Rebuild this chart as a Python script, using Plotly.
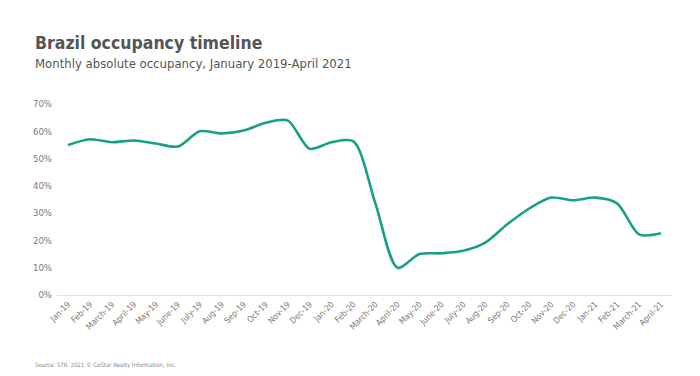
import plotly.graph_objects as go

months = ["Jan-19", "Feb-19", "March-19", "April-19", "May-19", "June-19", "July-19",
          "Aug-19", "Sep-19", "Oct-19", "Nov-19", "Dec-19", "Jan-20", "Feb-20",
          "March-20", "April-20", "May-20", "June-20", "July-20", "Aug-20", "Sep-20",
          "Oct-20", "Nov-20", "Dec-20", "Jan-21", "Feb-21", "March-21", "April-21"]
occupancy = [55.0, 57.1, 56.0, 56.6, 55.5, 54.4, 60.0,
             59.2, 60.3, 63.1, 64.0, 53.6, 56.0, 56.3,
             33.5, 10.0, 15.0, 15.3, 16.2, 19.2, 25.9,
             31.7, 35.7, 34.7, 35.7, 33.6, 22.2, 22.6]
y_ticks = [0, 10, 20, 30, 40, 50, 60, 70]

FONT = "'DejaVu Sans Condensed', 'Liberation Sans Narrow', Roboto, sans-serif"

fig = go.Figure()
fig.add_trace(go.Scatter(
    x=months, y=occupancy, mode="lines",
    line=dict(color="#17a086", width=2.6, shape="spline", smoothing=0.8),
    hoverinfo="x+y",
))

fig.update_layout(
    width=700, height=376,
    margin=dict(l=57, r=28, t=104, b=81, autoexpand=False),
    paper_bgcolor="white", plot_bgcolor="white",
    showlegend=False,
    font=dict(family=FONT, color="#7a7a7a"),
    xaxis=dict(
        type="category", range=[-0.5, 27.5], automargin=False,
        tickangle=-45, tickfont=dict(size=8.5, color="#7a7a7a", family=FONT),
        showgrid=False, zeroline=False, ticks="",
        showline=True, linecolor="#e3e3e3", linewidth=1,
    ),
    yaxis=dict(
        range=[0, 70], tickvals=y_ticks, automargin=False,
        ticktext=[f"{v}%" for v in y_ticks],
        tickfont=dict(size=9.5, color="#7a7a7a", family=FONT),
        showgrid=False, zeroline=False, ticks="", ticklabelstandoff=4,
    ),
    annotations=[
        dict(text="<b>Brazil occupancy timeline</b>", x=33, y=43, xref="paper", yref="paper",
             showarrow=False, xanchor="left", yanchor="middle",
             font=dict(size=17.5, color="#555555", family=FONT)),
        dict(text="Monthly absolute occupancy, January 2019-April 2021", x=33, y=63,
             xref="paper", yref="paper", showarrow=False, xanchor="left", yanchor="middle",
             font=dict(size=13, color="#555555", family=FONT)),
        dict(text="Source: STR. 2021 © CoStar Realty Information, Inc.", x=33, y=365,
             xref="paper", yref="paper", showarrow=False, xanchor="left", yanchor="middle",
             font=dict(size=6, color="#888888", family=FONT)),
    ],
)

# convert pixel positions for annotations into paper coordinates
W, H = 700, 376
l, r, t, b = 57, 28, 104, 81
pw, ph = W - l - r, H - t - b
for a in fig.layout.annotations:
    px, py = a.x, a.y
    a.x = (px - l) / pw
    a.y = (H - b - py) / ph

fig.write_html("out.html", config={"displayModeBar": False},
               post_script="document.body.style.margin='0';")
